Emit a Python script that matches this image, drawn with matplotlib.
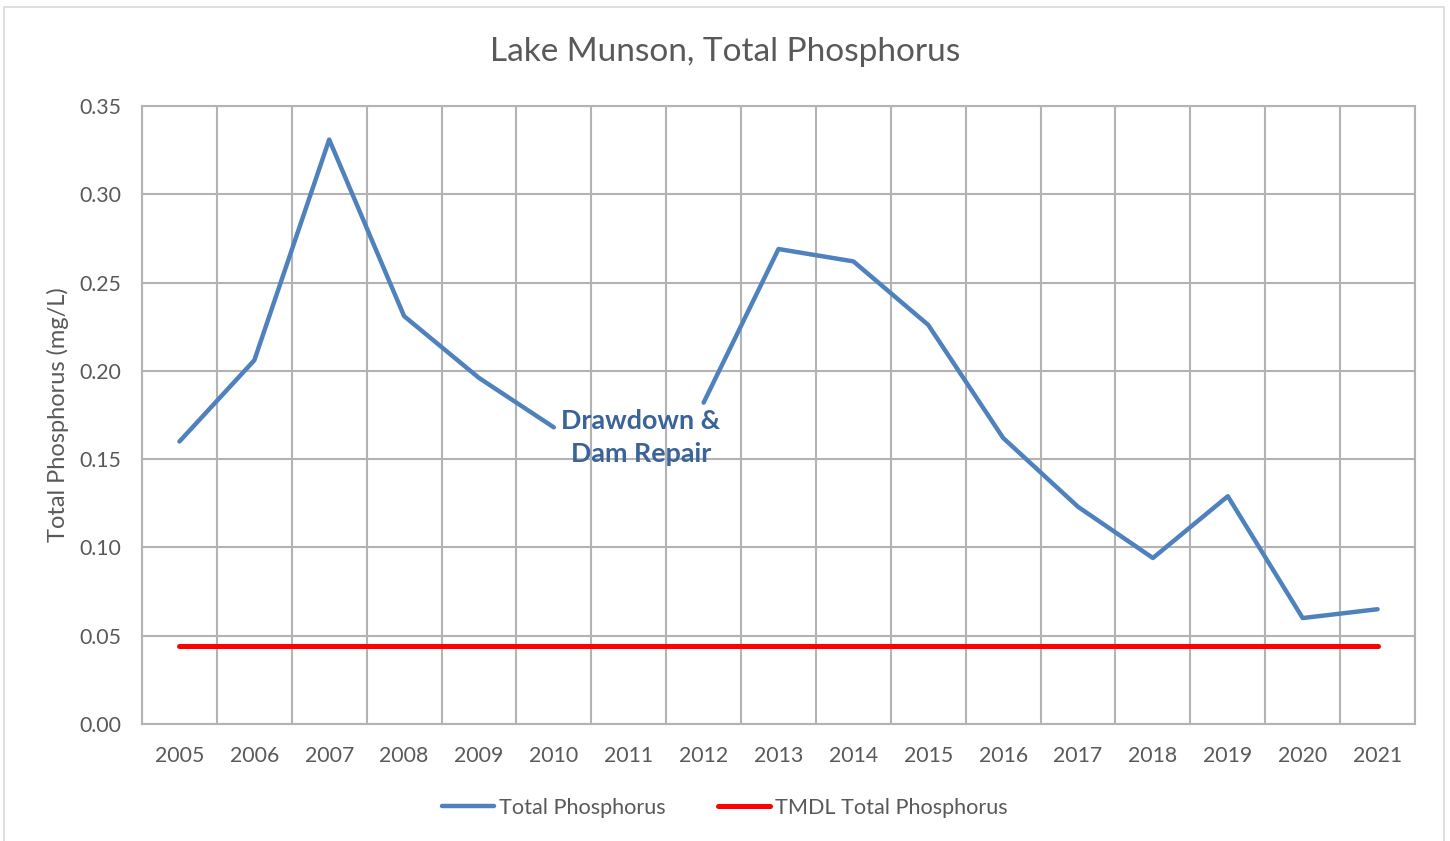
import numpy as np
import matplotlib
matplotlib.use("Agg")
import matplotlib.pyplot as plt
from matplotlib.patches import Rectangle

years = [str(y) for y in range(2005, 2022)]
total_p = [0.160, 0.206, 0.331, 0.231, 0.196, 0.168, np.nan, 0.182, 0.269, 0.262,
           0.226, 0.162, 0.123, 0.094, 0.129, 0.060, 0.065]
tmdl_p = [0.044] * len(years)
yticks = [0.00, 0.05, 0.10, 0.15, 0.20, 0.25, 0.30, 0.35]

plt.rcParams['font.family'] = ['Lato', 'DejaVu Sans']
txt = '#595959'
grid_c = '#B3B3B3'

fig = plt.figure(figsize=(14.5, 8.41), dpi=100)
ax = fig.add_axes([142/1450, 1-724/841, (1415-142)/1450, (724-106)/841])

x = np.arange(len(years))
ax.plot(x, total_p, color='#4F81BD', lw=3.2, solid_capstyle='round', solid_joinstyle='round',
        label='Total Phosphorus', zorder=3)
ax.plot(x, tmdl_p, color='#FF0000', lw=3.6, solid_capstyle='round',
        label='TMDL Total Phosphorus', zorder=3)

ax.set_xlim(-0.5, len(years)-0.5)
ax.set_ylim(0, 0.35)
ax.set_yticks(yticks)
ax.set_yticklabels([f"{v:.2f}" for v in yticks])
ax.set_xticks(x)
ax.set_xticklabels(years)
ax.set_xticks(np.arange(-0.5, len(years), 1.0), minor=True)
ax.tick_params(axis='both', which='both', length=0, labelsize=15.3, colors=txt)
ax.tick_params(axis='x', pad=16)
ax.tick_params(axis='y', pad=15)
ax.grid(True, axis='y', which='major', color=grid_c, lw=1.5)
ax.grid(True, axis='x', which='minor', color=grid_c, lw=1.5)
ax.grid(False, axis='x', which='major')
for s in ax.spines.values():
    s.set_color(grid_c)
    s.set_linewidth(1.5)
ax.set_axisbelow(True)

ax.set_ylabel('Total Phosphorus (mg/L)', fontsize=17, color=txt, labelpad=7)
fig.text(0.5, 1-52/841, 'Lake Munson, Total Phosphorus', ha='center', va='center',
         fontsize=24, color=txt)

ax.text(6.16, 0.162, 'Drawdown &\nDam Repair', ha='center', va='center', fontsize=19.4,
        fontweight='bold', color='#3A6399', linespacing=1.45, zorder=4)

leg = fig.legend(loc='center', bbox_to_anchor=(0.5, 1-808/841), ncol=2, frameon=False,
                 fontsize=15.6, handlelength=2.4, handletextpad=0.25, columnspacing=2.4)
for t in leg.get_texts():
    t.set_color(txt)

fig.patches.append(Rectangle((4/1450, -0.01), 1440/1450, 1-7/841+0.01, transform=fig.transFigure,
                             fill=False, edgecolor='#D9D9D9', lw=1.2))

fig.savefig('out.png', dpi=100, facecolor='white')
